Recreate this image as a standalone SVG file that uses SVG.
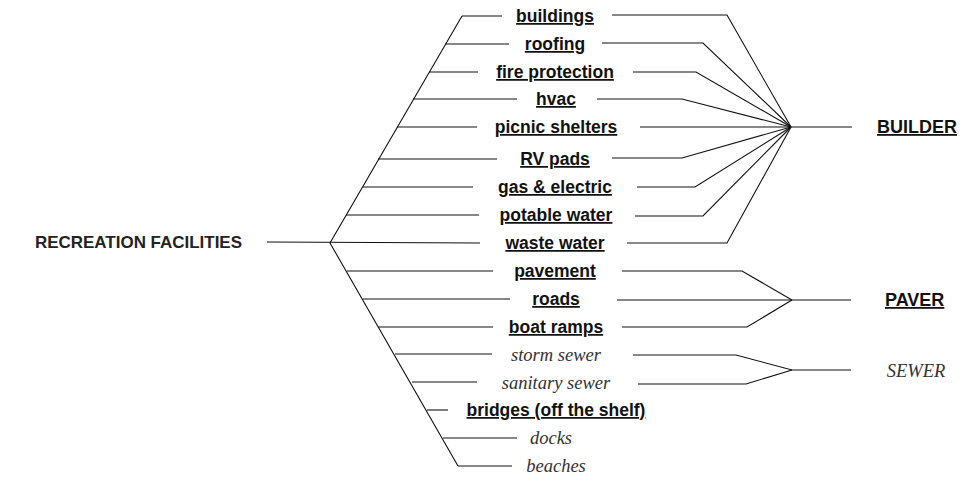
<svg xmlns="http://www.w3.org/2000/svg" width="963" height="487" viewBox="0 0 963 487">
<style>
.ln{fill:none;stroke:#111;stroke-width:1.1}
.b{font-family:"Liberation Sans",Arial,sans-serif;font-weight:bold;font-size:17.5px;fill:#111;text-anchor:middle;text-decoration:underline}
.i{font-family:"Liberation Serif","Times New Roman",serif;font-style:italic;font-size:18.5px;fill:#333;text-anchor:middle}
.root{font-family:"Liberation Sans",Arial,sans-serif;font-weight:bold;font-size:16.5px;fill:#222}
.hd{font-family:"Liberation Sans",Arial,sans-serif;font-weight:bold;font-size:18px;fill:#111;text-decoration:underline}
</style>
<rect width="963" height="487" fill="#fff"/>
<g id="connectors">
<polyline class="ln" points="462,16 330,243 458,466"/>
<line class="ln" x1="267" y1="242" x2="480" y2="243"/>
<line class="ln" x1="462" y1="16" x2="502" y2="16"/>
<line class="ln" x1="445" y1="44" x2="509" y2="44"/>
<line class="ln" x1="429" y1="72" x2="478" y2="72"/>
<line class="ln" x1="413" y1="99" x2="517" y2="99"/>
<line class="ln" x1="397" y1="127" x2="477" y2="127"/>
<line class="ln" x1="378" y1="159" x2="497" y2="159"/>
<line class="ln" x1="363" y1="187" x2="473" y2="187"/>
<line class="ln" x1="346" y1="215" x2="479" y2="215"/>
<line class="ln" x1="347" y1="271" x2="493" y2="271"/>
<line class="ln" x1="363" y1="299" x2="510" y2="299"/>
<line class="ln" x1="378" y1="327" x2="493" y2="327"/>
<line class="ln" x1="395" y1="354" x2="492" y2="354"/>
<line class="ln" x1="412" y1="382" x2="477" y2="382"/>
<line class="ln" x1="427" y1="410" x2="448" y2="410"/>
<line class="ln" x1="443" y1="438" x2="517" y2="438"/>
<line class="ln" x1="458" y1="466" x2="512" y2="466"/>
<polyline class="ln" points="612,15 727,15 791,127"/>
<polyline class="ln" points="602,43 703,43 791,127"/>
<polyline class="ln" points="633,72 696,72 791,127"/>
<polyline class="ln" points="597,99 682,99 791,127"/>
<polyline class="ln" points="640,127 852,127"/>
<polyline class="ln" points="612,158 682,158 791,127"/>
<polyline class="ln" points="637,187 695,187 791,127"/>
<polyline class="ln" points="635,216 703,216 791,127"/>
<polyline class="ln" points="627,243 727,243 791,127"/>
<polyline class="ln" points="622,271 742,271 792,300"/>
<polyline class="ln" points="617,300 851,300"/>
<polyline class="ln" points="622,327 747,327 792,300"/>
<polyline class="ln" points="633,355 736,355 792,370 851,370"/>
<polyline class="ln" points="638,384 746,384 792,370"/>
</g>
<g id="recreation-facilities"><text class="root" x="35" y="248" textLength="207" lengthAdjust="spacingAndGlyphs">RECREATION FACILITIES</text></g>
<g id="buildings"><text class="b" x="555" y="22">buildings</text></g>
<g id="roofing"><text class="b" x="555" y="50">roofing</text></g>
<g id="fire-protection"><text class="b" x="555" y="78">fire protection</text></g>
<g id="hvac"><text class="b" x="556" y="105">hvac</text></g>
<g id="picnic-shelters"><text class="b" x="556" y="133">picnic shelters</text></g>
<g id="rv-pads"><text class="b" x="555" y="165">RV pads</text></g>
<g id="gas-electric"><text class="b" x="555" y="193">gas &amp; electric</text></g>
<g id="potable-water"><text class="b" x="556" y="221">potable water</text></g>
<g id="waste-water"><text class="b" x="555" y="249">waste water</text></g>
<g id="pavement"><text class="b" x="555" y="277">pavement</text></g>
<g id="roads"><text class="b" x="556" y="305">roads</text></g>
<g id="boat-ramps"><text class="b" x="556" y="333">boat ramps</text></g>
<g id="storm-sewer"><text class="i" x="556" y="361">storm sewer</text></g>
<g id="sanitary-sewer"><text class="i" x="556" y="389">sanitary sewer</text></g>
<g id="bridges"><text class="b" x="556" y="416">bridges (off the shelf)</text></g>
<g id="docks"><text class="i" x="551" y="444">docks</text></g>
<g id="beaches"><text class="i" x="556" y="472">beaches</text></g>
<g id="builder"><text class="hd" x="877" y="133">BUILDER</text></g>
<g id="paver"><text class="hd" x="885" y="306">PAVER</text></g>
<g id="sewer"><text class="i" x="916" y="377">SEWER</text></g>
</svg>
